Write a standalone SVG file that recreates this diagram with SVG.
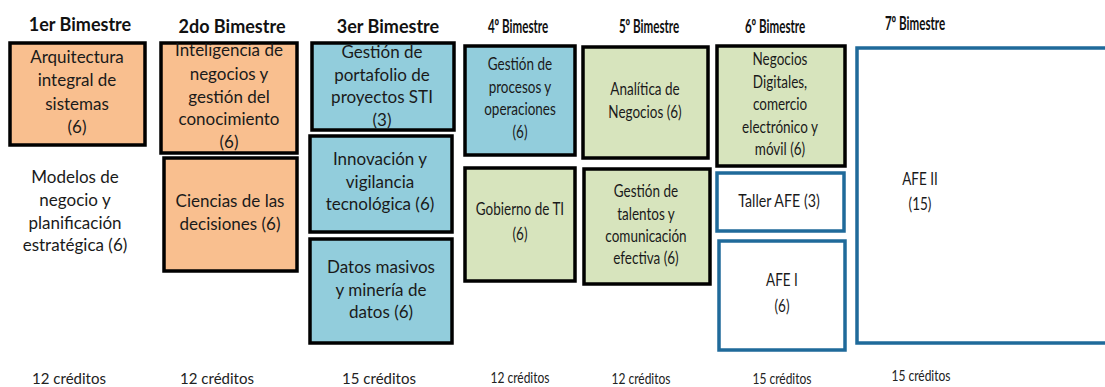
<svg xmlns="http://www.w3.org/2000/svg" width="1105" height="387" viewBox="0 0 1105 387">
<style>
.h{font-family:Lato,"Open Sans",sans-serif;font-weight:bold;font-size:18px;fill:#111;text-anchor:middle}
.h2{font-family:Lato,"Open Sans",sans-serif;font-weight:bold;font-size:19px;fill:#111;text-anchor:middle}
.t{font-family:Lato,"Open Sans",sans-serif;font-size:17px;fill:#1a1a1a;text-anchor:middle}
.r{font-family:Lato,"Open Sans",sans-serif;font-size:18px;fill:#1a1a1a;text-anchor:middle}
.c{font-family:Lato,"Open Sans",sans-serif;font-size:15px;fill:#222;text-anchor:middle}
.c2{font-family:Lato,"Open Sans",sans-serif;font-size:16px;fill:#222;text-anchor:middle}
.or{fill:#F9BF8F;stroke:#000;stroke-width:3.5}
.bl{fill:#92CDDC;stroke:#000;stroke-width:3.5}
.gr{fill:#D7E4BD;stroke:#000;stroke-width:3.5}
.wb{fill:#fff;stroke:#1F6A9A;stroke-width:3.5}
</style>
<rect width="1105" height="387" fill="#fff"/>
<g id="headers">
<text class="h" x="80" y="31">1er Bimestre</text>
<text class="h" x="232" y="33">2do Bimestre</text>
<text class="h" x="388" y="33">3er Bimestre</text>
<text class="h2" x="518" y="33" transform="matrix(0.61 0 0 1 202.02 0)">4º Bimestre</text>
<text class="h2" x="649" y="33" transform="matrix(0.61 0 0 1 253.11 0)">5º Bimestre</text>
<text class="h2" x="775" y="33" transform="matrix(0.61 0 0 1 302.25 0)">6º Bimestre</text>
<text class="h2" x="915" y="30" transform="matrix(0.61 0 0 1 356.85 0)">7º Bimestre</text>
</g>
<g id="connectors"></g>
<g id="n1">
<rect class="or" x="10" y="43" width="135" height="102"/>
<text class="t"><tspan x="77" y="63">Arquitectura</tspan><tspan x="77" y="86">integral de</tspan><tspan x="77" y="110">sistemas</tspan><tspan x="77" y="133">(6)</tspan></text>
</g>
<g id="n1b">
<text class="t"><tspan x="75" y="183">Modelos de</tspan><tspan x="75" y="206">negocio y</tspan><tspan x="75" y="229">planificación</tspan><tspan x="75" y="251">estratégica (6)</tspan></text>
</g>
<g id="n2a">
<rect class="or" x="161" y="43" width="136" height="110"/>
<text class="t"><tspan x="229" y="56">Inteligencia de</tspan><tspan x="229" y="80">negocios y</tspan><tspan x="229" y="103">gestión del</tspan><tspan x="229" y="125">conocimiento</tspan><tspan x="229" y="148">(6)</tspan></text>
</g>
<g id="n2b">
<rect class="or" x="164" y="158" width="133" height="113"/>
<text class="t"><tspan x="230" y="207">Ciencias de las</tspan><tspan x="230" y="230">decisiones (6)</tspan></text>
</g>
<g id="n3a">
<rect class="bl" x="312" y="43" width="142" height="87"/>
<text class="t"><tspan x="382" y="58">Gestión de</tspan><tspan x="382" y="81">portafolio de</tspan><tspan x="382" y="103">proyectos STI</tspan><tspan x="382" y="126">(3)</tspan></text>
</g>
<g id="n3b">
<rect class="bl" x="310" y="136" width="142" height="96"/>
<text class="t"><tspan x="380" y="165">Innovación y</tspan><tspan x="380" y="188">vigilancia</tspan><tspan x="380" y="210">tecnológica (6)</tspan></text>
</g>
<g id="n3c">
<rect class="bl" x="310" y="239" width="142" height="104"/>
<text class="t"><tspan x="381" y="273">Datos masivos</tspan><tspan x="381" y="296">y minería de</tspan><tspan x="381" y="318">datos (6)</tspan></text>
</g>
<g id="n4a">
<rect class="bl" x="465" y="46" width="110" height="109"/>
<text class="r" transform="matrix(0.75 0 0 1 130 0)"><tspan x="520" y="70">Gestión de</tspan><tspan x="520" y="93">procesos y</tspan><tspan x="520" y="115">operaciones</tspan><tspan x="520" y="138">(6)</tspan></text>
</g>
<g id="n4b">
<rect class="gr" x="465" y="168" width="110" height="113"/>
<text class="r" transform="matrix(0.75 0 0 1 130 0)"><tspan x="520" y="215">Gobierno de TI</tspan><tspan x="520" y="240">(6)</tspan></text>
</g>
<g id="n5a">
<rect class="gr" x="583" y="47" width="125" height="111"/>
<text class="r" transform="matrix(0.75 0 0 1 161.25 0)"><tspan x="645" y="95">Analítica de</tspan><tspan x="645" y="118">Negocios (6)</tspan></text>
</g>
<g id="n5b">
<rect class="gr" x="584" y="169" width="126" height="115"/>
<text class="r" transform="matrix(0.75 0 0 1 161.5 0)"><tspan x="646" y="197">Gestión de</tspan><tspan x="646" y="220">talentos y</tspan><tspan x="646" y="242">comunicación</tspan><tspan x="646" y="264">efectiva (6)</tspan></text>
</g>
<g id="n6a">
<rect class="gr" x="717" y="46" width="128" height="120"/>
<text class="r" transform="matrix(0.75 0 0 1 195 0)"><tspan x="780" y="65">Negocios</tspan><tspan x="780" y="88">Digitales,</tspan><tspan x="780" y="110">comercio</tspan><tspan x="780" y="133">electrónico y</tspan><tspan x="780" y="155">móvil (6)</tspan></text>
</g>
<g id="n6b">
<rect class="wb" x="717" y="173" width="127" height="58"/>
<text class="r" x="779" y="207" transform="matrix(0.79 0 0 1 163.59 0)">Taller AFE (3)</text>
</g>
<g id="n6c">
<rect class="wb" x="719" y="241" width="126" height="109"/>
<text class="r" transform="matrix(0.75 0 0 1 195.5 0)"><tspan x="782" y="286">AFE I</tspan><tspan x="782" y="312">(6)</tspan></text>
</g>
<g id="n7">
<rect class="wb" x="857" y="48" width="260" height="295"/>
<text class="r" transform="matrix(0.75 0 0 1 230 0)"><tspan x="920" y="185">AFE II</tspan><tspan x="920" y="210">(15)</tspan></text>
</g>
<g id="credits">
<text class="c" x="69" y="384">12 créditos</text>
<text class="c" x="217" y="384">12 créditos</text>
<text class="c" x="379" y="384">15 créditos</text>
<text class="c2" x="520" y="383" transform="matrix(0.75 0 0 1 130 0)">12 créditos</text>
<text class="c2" x="641" y="384" transform="matrix(0.75 0 0 1 160.25 0)">12 créditos</text>
<text class="c2" x="782" y="384" transform="matrix(0.75 0 0 1 195.5 0)">15 créditos</text>
<text class="c2" x="921" y="381" transform="matrix(0.75 0 0 1 230.25 0)">15 créditos</text>
</g>
</svg>
